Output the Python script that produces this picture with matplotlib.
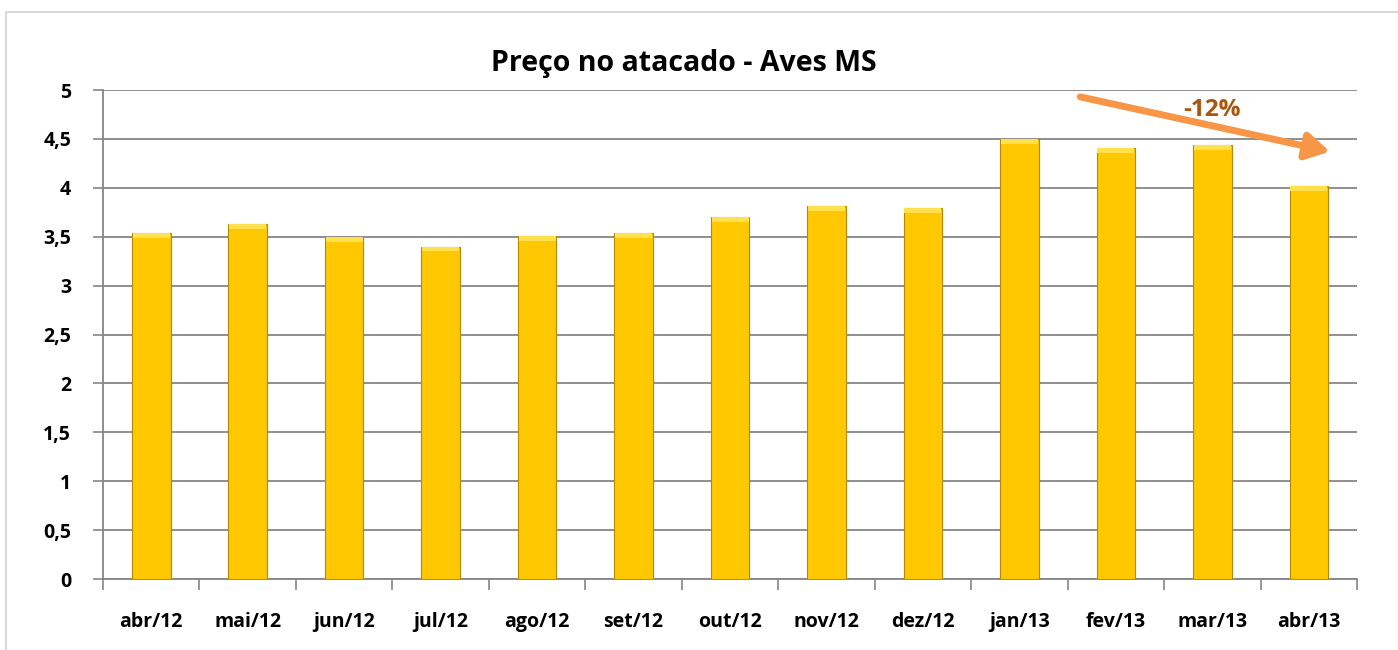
import numpy as np
import matplotlib.pyplot as plt
from matplotlib.patches import Rectangle, FancyArrowPatch

# dados do gráfico
meses = ['abr/12', 'mai/12', 'jun/12', 'jul/12', 'ago/12', 'set/12', 'out/12',
         'nov/12', 'dez/12', 'jan/13', 'fev/13', 'mar/13', 'abr/13']
precos = [3.54, 3.63, 3.50, 3.40, 3.51, 3.54, 3.70, 3.81, 3.79, 4.50, 4.41, 4.44, 4.02]
y_ticks = [0, 0.5, 1, 1.5, 2, 2.5, 3, 3.5, 4, 4.5, 5]
y_labels = ['0', '0,5', '1', '1,5', '2', '2,5', '3', '3,5', '4', '4,5', '5']

plt.rcParams['font.family'] = ['Open Sans', 'DejaVu Sans']

fig = plt.figure(figsize=(13.98, 6.5), dpi=100)
ax = fig.add_axes([0.0737, 0.1092, 0.8970, 0.7523])

# moldura do gráfico
fig.patches.append(Rectangle((6 / 1398, -0.05), 1.1, 1 - 12 / 650 + 0.05,
                             transform=fig.transFigure, fill=False,
                             edgecolor='#d9d9d9', linewidth=1.5, zorder=0))

x = np.arange(len(meses))
largura = 0.40
ax.bar(x, precos, width=largura, color='#ffc800', edgecolor='#b38a00',
       linewidth=0.8, zorder=3)
# brilho no topo das barras
ax.bar(x, [0.05] * len(x), bottom=np.array(precos) - 0.05, width=largura * 0.96,
       color='#ffe14d', linewidth=0, zorder=4)

ax.set_xlim(-0.5, len(meses) - 0.5)
ax.set_ylim(0, 5)
ax.set_yticks(y_ticks)
ax.set_yticklabels(y_labels, fontsize=14, fontweight='bold')
ax.set_xticks(x)
ax.set_xticklabels(meses, fontsize=14, fontweight='bold')
ax.set_xticks(np.arange(-0.5, len(meses), 1), minor=True)
ax.tick_params(axis='x', which='major', length=0, pad=24)
ax.tick_params(axis='x', which='minor', length=8, color='#868686', width=1.2)
ax.tick_params(axis='y', length=7, color='#868686', width=1.2, pad=16)

ax.grid(axis='y', color='#868686', linewidth=1.3, zorder=0)
for s in ['top', 'right']:
    ax.spines[s].set_visible(False)
for s in ['left', 'bottom']:
    ax.spines[s].set_color('#868686')
    ax.spines[s].set_linewidth(1.3)

# título centrado na área do gráfico (não no eixo)
ax.set_title('Preço no atacado - Aves MS', fontsize=20.5, fontweight='bold',
             pad=14, x=0.463)

# seta de variação
seta = FancyArrowPatch((9.63, 4.93), (12.22, 4.37),
                       arrowstyle='-|>,head_length=14,head_width=8',
                       mutation_scale=1, color='#f79646', linewidth=5,
                       shrinkA=0, shrinkB=0, zorder=6)
ax.add_patch(seta)
ax.text(11.0, 4.80, '-12%', color='#a9570f', fontsize=17.5, fontweight='bold',
        ha='center', va='center', zorder=7)

plt.savefig('out.png', dpi=100)
